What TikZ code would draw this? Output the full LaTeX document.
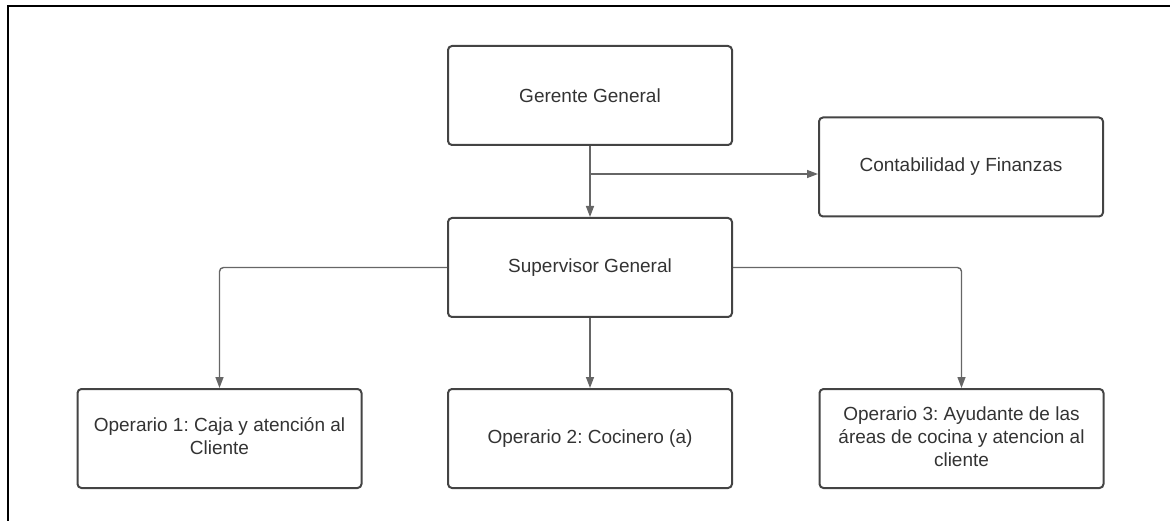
\documentclass[tikz,border=0pt]{standalone}
\usepackage{fontspec}
\setmainfont{Liberation Sans}
\usetikzlibrary{arrows.meta}
\definecolor{boxline}{HTML}{444444}
\definecolor{txt}{HTML}{333333}
\definecolor{wire}{HTML}{666666}
% centred multi-line label
\newcommand{\lines}[1]{\begin{tabular}{@{}c@{}}#1\end{tabular}}
\tikzset{
  orgbox/.style={draw=boxline, line width=2pt, rounded corners=4pt,
    minimum width=284pt, minimum height=99pt, inner sep=0pt,
    text=txt, font=\frenchspacing\fontsize{19}{23}\selectfont},
  link/.style={draw=wire, line width=1.4pt, rounded corners=4pt,
    -{Triangle[length=11pt,width=8pt]}},
  frame/.style={draw=black, line width=2pt}
}
\begin{document}
\begin{tikzpicture}[x=1pt,y=-1pt]
  \useasboundingbox (0,0) rectangle (1170,521);
  % page frame (top and left edges)
  \draw[frame] (7.5,521) -- (7.5,6.5) -- (1170,6.5);

  % boxes
  \node[orgbox] (ger)  at (590,95.5)   {Gerente General};
  \node[orgbox] (cont) at (961,167)    {Contabilidad y Finanzas};
  \node[orgbox] (sup)  at (590,267.5)  {Supervisor General};
  \node[orgbox] (op1)  at (219.5,438.5) {\lines{Operario 1: Caja y atención al\\Cliente}};
  \node[orgbox] (op2)  at (590,438.5)  {Operario 2: Cocinero (a)};
  \node[orgbox] (op3)  at (961.5,438.5) {\lines{Operario 3: Ayudante de las\\áreas de cocina y atencion al\\cliente}};

  % connectors
  \coordinate (br) at (590,174);
  \draw[link] (ger.south) -- (sup.north);
  \draw[link] (br) -- (br -| cont.west);
  \draw[link] (sup.west) -| (op1.north);
  \draw[link] (sup.south) -- (op2.north);
  \draw[link] (sup.east) -| (op3.north);
\end{tikzpicture}
\end{document}
